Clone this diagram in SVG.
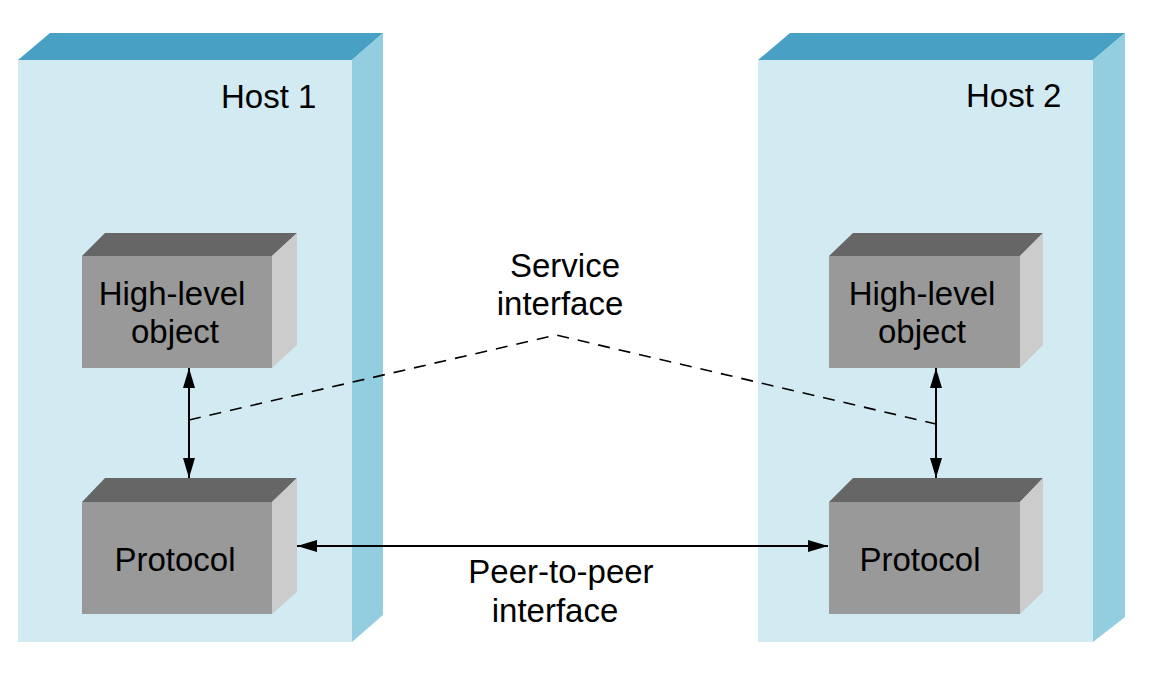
<svg xmlns="http://www.w3.org/2000/svg" width="1154" height="680" viewBox="0 0 1154 680">
<defs>
<style>
.hf{fill:#D2EAF2}.ht{fill:#48A0C4}.hs{fill:#92CDE0}
.bf{fill:#999999}.bt{fill:#666666}.bs{fill:#CCCCCC}
text{font-family:"Liberation Sans",Arial,Helvetica,sans-serif;font-size:33px;fill:#000}
.c{stroke:#000;stroke-width:2;fill:none}
.d{stroke:#000;stroke-width:1.6;fill:none;stroke-dasharray:12 9}
</style>
<marker id="ah" viewBox="0 0 20 12" refX="20" refY="6" markerWidth="20" markerHeight="12" markerUnits="userSpaceOnUse" orient="auto-start-reverse">
<path d="M0,0 L20,6 L0,12 Z" fill="#000"/>
</marker>
</defs>
<g id="host1">
<polygon class="ht" points="18,60 50,33 383,33 352,60"/>
<polygon class="hs" points="352,60 383,33 383,615 352,642"/>
<rect class="hf" x="18" y="60" width="334" height="582"/>
<text x="221" y="108">Host 1</text>
</g>
<g id="host2">
<polygon class="ht" points="758,60 790,33 1125,33 1093,60"/>
<polygon class="hs" points="1093,60 1125,33 1125,617 1093,642"/>
<rect class="hf" x="758" y="60" width="335" height="582"/>
<text x="966" y="107">Host 2</text>
</g>
<g id="hlo1">
<polygon class="bt" points="82,256 105,233 297,233 272,256"/>
<polygon class="bs" points="272,256 297,233 297,345 272,368"/>
<rect class="bf" x="82" y="256" width="190" height="112"/>
<text x="172" y="305" text-anchor="middle">High-level</text>
<text x="175" y="343" text-anchor="middle">object</text>
</g>
<g id="proto1">
<polygon class="bt" points="82,502 105,478 297,478 272,502"/>
<polygon class="bs" points="272,502 297,478 297,592 272,614"/>
<rect class="bf" x="82" y="502" width="190" height="112"/>
<text x="175" y="571" text-anchor="middle">Protocol</text>
</g>
<g id="hlo2">
<polygon class="bt" points="829,256 853,233 1043,233 1020,256"/>
<polygon class="bs" points="1020,256 1043,233 1043,345 1020,368"/>
<rect class="bf" x="829" y="256" width="191" height="112"/>
<text x="922" y="305" text-anchor="middle">High-level</text>
<text x="922" y="343" text-anchor="middle">object</text>
</g>
<g id="proto2">
<polygon class="bt" points="829,502 853,478 1043,478 1020,502"/>
<polygon class="bs" points="1020,502 1043,478 1043,592 1020,614"/>
<rect class="bf" x="829" y="502" width="191" height="112"/>
<text x="920" y="571" text-anchor="middle">Protocol</text>
</g>
<g id="connectors">
<line class="c" x1="189" y1="368" x2="189" y2="478" marker-start="url(#ah)" marker-end="url(#ah)"/>
<line class="c" x1="936" y1="368" x2="936" y2="478" marker-start="url(#ah)" marker-end="url(#ah)"/>
<line class="c" x1="297" y1="546" x2="828" y2="546" marker-start="url(#ah)" marker-end="url(#ah)"/>
<polyline class="d" points="189,420 556,335 936,424"/>
</g>
<g id="labels">
<text x="565" y="277" text-anchor="middle">Service</text>
<text x="560" y="315" text-anchor="middle">interface</text>
<text x="561" y="583" text-anchor="middle">Peer-to-peer</text>
<text x="555" y="622" text-anchor="middle">interface</text>
</g>
</svg>
